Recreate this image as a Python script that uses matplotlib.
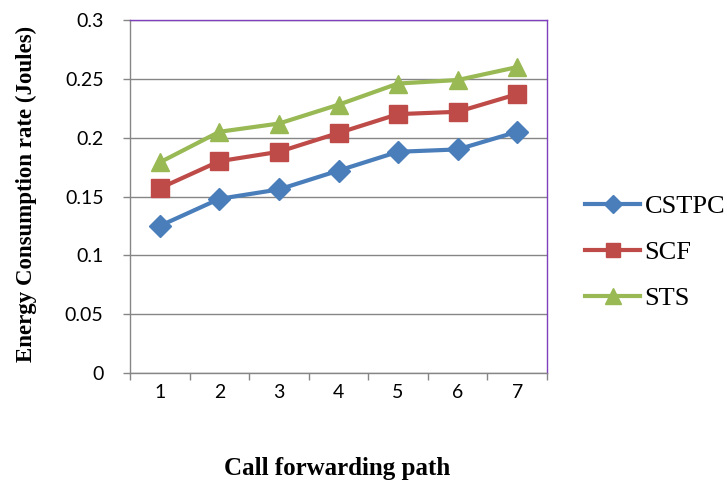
import matplotlib
matplotlib.use("Agg")
import matplotlib.pyplot as plt
from matplotlib.ticker import FixedLocator, NullFormatter

paths = [1, 2, 3, 4, 5, 6, 7]
cstpc = [0.125, 0.148, 0.156, 0.172, 0.188, 0.190, 0.205]
scf = [0.157, 0.180, 0.188, 0.204, 0.220, 0.222, 0.237]
sts = [0.179, 0.205, 0.212, 0.228, 0.246, 0.249, 0.260]
yticks = [0, 0.05, 0.1, 0.15, 0.2, 0.25, 0.3]
ytick_labels = ["0", "0.05", "0.1", "0.15", "0.2", "0.25", "0.3"]

fig = plt.figure(figsize=(7.27, 4.82), dpi=100)
ax = fig.add_axes([130/727, 1-373/482, (547-130)/727, (373-20)/482])

gray = "#868686"
purple = "#7F3FBF"

ax.plot(paths, cstpc, color="#4A7EBB", lw=3, marker="D", ms=11, label="CSTPC", zorder=3)
ax.plot(paths, scf, color="#BE4B48", lw=3, marker="s", ms=12.5, label="SCF", zorder=3)
ax.plot(paths, sts, color="#98B954", lw=3, marker="^", ms=13, label="STS", zorder=3)

ax.set_xlim(0.5, 7.5)
ax.set_ylim(0, 0.3)
ax.set_yticks(yticks)
ax.set_yticklabels(ytick_labels)
ax.set_xticks(paths)
ax.set_xticklabels([str(p) for p in paths])
ax.xaxis.set_minor_locator(FixedLocator([0.5 + i for i in range(8)]))
ax.xaxis.set_minor_formatter(NullFormatter())
ax.tick_params(axis="x", which="major", length=0, pad=8, labelsize=14)
ax.tick_params(axis="x", which="minor", length=5, color=gray, width=1, direction="out")
ax.tick_params(axis="y", which="major", length=5, color=gray, width=1, pad=14, labelsize=14)
for lab in ax.get_xticklabels() + ax.get_yticklabels():
    lab.set_family("Lato")
    lab.set_color("#000000")

ax.grid(axis="y", color=gray, lw=1, zorder=0)
ax.set_axisbelow(True)
ax.spines["left"].set_color(gray)
ax.spines["bottom"].set_color(gray)
ax.spines["top"].set_color(purple)
ax.spines["right"].set_color(purple)
for s in ax.spines.values():
    s.set_linewidth(1)

ax.set_ylabel("Energy Consumption rate (Joules)", family="Liberation Serif",
              fontweight="bold", fontsize=16.5)
ax.yaxis.set_label_coords(-0.223, 0.508)
fig.text(337.5/727, 1-468/482, "Call forwarding path", family="Liberation Serif",
         fontweight="bold", fontsize=18, ha="center", va="center")

leg = fig.legend(loc="upper left", bbox_to_anchor=(585/727, 1-195/482), frameon=False,
                 prop={"family": "Liberation Serif", "size": 19}, handlelength=2.1,
                 handletextpad=0.15, labelspacing=0.85, borderaxespad=0, borderpad=0,
                 markerscale=0.85)

fig.savefig("out.png", dpi=100)
